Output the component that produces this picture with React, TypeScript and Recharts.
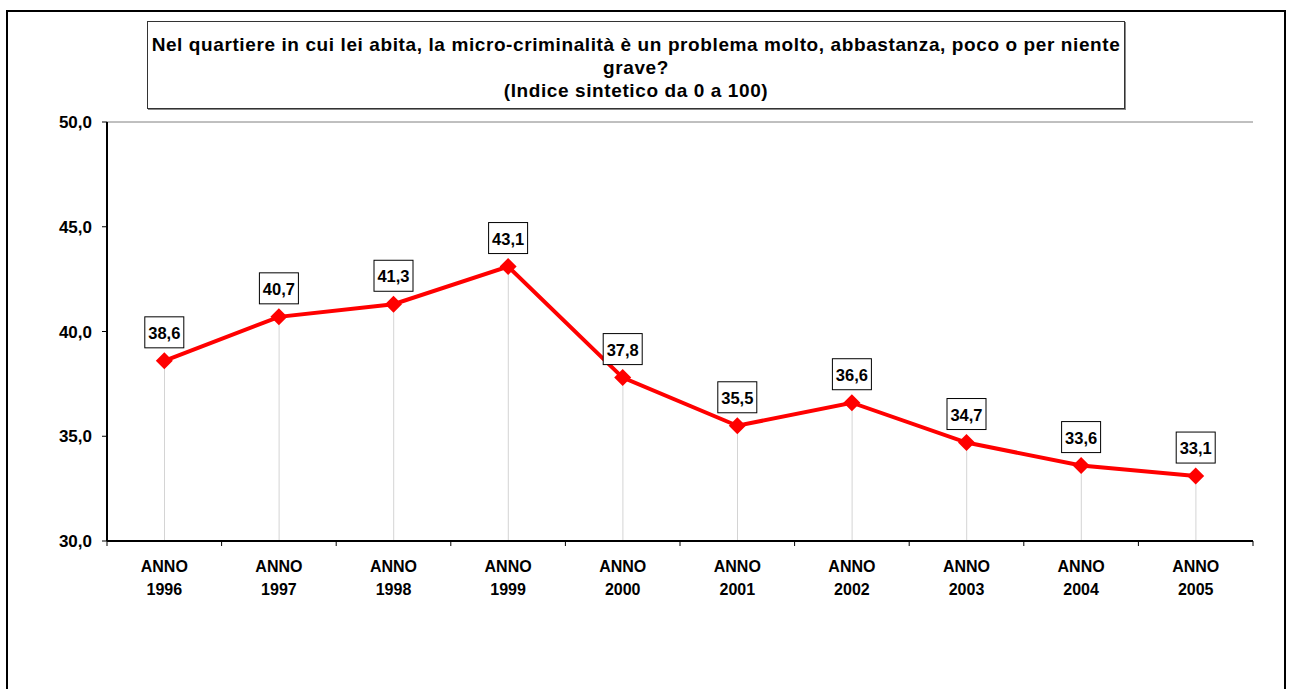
import React from 'react';
import { ComposedChart, Line, Bar, XAxis, YAxis, LabelList, ReferenceLine } from 'recharts';

const categories = ['ANNO 1996', 'ANNO 1997', 'ANNO 1998', 'ANNO 1999', 'ANNO 2000', 'ANNO 2001', 'ANNO 2002', 'ANNO 2003', 'ANNO 2004', 'ANNO 2005'];
const values = [38.6, 40.7, 41.3, 43.1, 37.8, 35.5, 36.6, 34.7, 33.6, 33.1];
const yTicks = [30, 35, 40, 45, 50];
const titleLines = [
  'Nel quartiere in cui lei abita, la micro-criminalità è un problema molto, abbastanza, poco o per niente',
  'grave?',
  '(Indice sintetico da 0 a 100)',
];

const data = categories.map((c, i) => ({ year: c, value: values[i] }));

const FONT = '"Liberation Sans", Arial, sans-serif';
const fmt = (v: number) => v.toFixed(1).replace('.', ',');

const XTick = (props: any) => {
  const { x, y, payload, index, visibleTicksCount } = props;
  const half = payload && typeof payload.offset === 'number' && payload.offset > 0 ? payload.offset : 57.3;
  const parts = String(payload.value).split(' ');
  const last = index === visibleTicksCount - 1;
  return (
    <g>
      <line x1={x - half} x2={x - half} y1={y} y2={y + 5} stroke="#000" strokeWidth={1} />
      {last && <line x1={x + half} x2={x + half} y1={y} y2={y + 5} stroke="#000" strokeWidth={1} />}
      <text x={x} y={y + 31} textAnchor="middle" fontFamily={FONT} fontWeight="bold" fontSize={16} fill="#000">{parts[0]}</text>
      <text x={x} y={y + 54} textAnchor="middle" fontFamily={FONT} fontWeight="bold" fontSize={16} fill="#000">{parts[1]}</text>
    </g>
  );
};

const Diamond = (props: any) => {
  const { cx, cy } = props;
  if (cx == null || cy == null) return null;
  const r = 8.5;
  return <polygon points={`${cx},${cy - r} ${cx + r},${cy} ${cx},${cy + r} ${cx - r},${cy}`} fill="#ff0000" />;
};

const BoxLabel = (props: any) => {
  const { x, y, value } = props;
  const w = 39, h = 31;
  return (
    <g>
      <rect x={x - w / 2} y={y - 44} width={w} height={h} fill="#fff" stroke="#000" strokeWidth={1} />
      <text x={x} y={y - 22} textAnchor="middle" fontFamily={FONT} fontWeight="bold" fontSize={16.5} fill="#000">{fmt(value)}</text>
    </g>
  );
};

export default function App() {
  return (
    <div style={{ position: 'fixed', left: 0, top: 0, width: 1292, height: 689, overflow: 'hidden', background: '#fff' }}>
      <div style={{ position: 'absolute', left: 6, top: 10, width: 1280, height: 720, border: '2px solid #000', boxSizing: 'border-box' }} />
      <div style={{ position: 'absolute', left: 147, top: 21, width: 978, height: 88, border: '1px solid #333', boxSizing: 'border-box', boxShadow: '1px 1px 0 #888' }} />
      <div style={{ position: 'absolute', left: 147, top: 33, width: 978, fontFamily: FONT, fontWeight: 'bold', fontSize: 19, letterSpacing: '0.6px', lineHeight: '23px', textAlign: 'center', color: '#000' }}>
        {titleLines.map((t, i) => (
          <div key={i} style={{ whiteSpace: 'nowrap' }}>{t}</div>
        ))}
      </div>
      <div style={{ position: 'absolute', left: 0, top: 0 }}>
        <ComposedChart width={1292} height={689} data={data} margin={{ top: 122, right: 39, left: 0, bottom: 88 }}>
          <XAxis dataKey="year" height={60} tick={<XTick />} tickLine={false} tickSize={0} tickMargin={0} axisLine={{ stroke: '#000', strokeWidth: 2 }} interval={0} />
          <YAxis domain={[30, 50]} ticks={yTicks} width={107} tickFormatter={fmt} tickSize={5} tickMargin={10} tickLine={{ stroke: '#000' }} axisLine={{ stroke: '#000', strokeWidth: 2 }} tick={{ fill: '#000', fontFamily: FONT, fontWeight: 'bold', fontSize: 17 }} interval={0} />
          <YAxis yAxisId="r" orientation="right" domain={[30, 50]} width={0} tick={false} tickLine={false} axisLine={{ stroke: '#808080', strokeWidth: 1 }} />
          <ReferenceLine y={50} stroke="#808080" strokeWidth={1} />
          <Bar dataKey="value" barSize={1} fill="#d4d4d4" isAnimationActive={false} />
          <Line dataKey="value" stroke="#ff0000" strokeWidth={4} dot={<Diamond />} activeDot={false} isAnimationActive={false}>
            <LabelList dataKey="value" content={<BoxLabel />} />
          </Line>
        </ComposedChart>
      </div>
    </div>
  );
}
